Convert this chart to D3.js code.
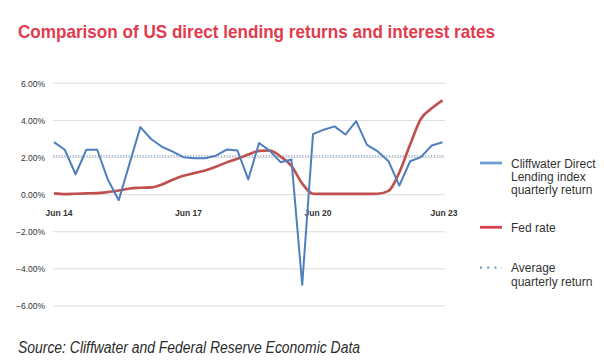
<!DOCTYPE html>
<html><head><meta charset="utf-8">
<script src="https://cdn.jsdelivr.net/npm/d3@7"></script>
<style>body{margin:0;background:#fff}svg{display:block}</style>
</head><body><svg id="c" width="604" height="364"></svg>
<script>
const quarters = ["Jun 14","Sep 14","Dec 14","Mar 15","Jun 15","Sep 15","Dec 15","Mar 16","Jun 16","Sep 16","Dec 16","Mar 17","Jun 17","Sep 17","Dec 17","Mar 18","Jun 18","Sep 18","Dec 18","Mar 19","Jun 19","Sep 19","Dec 19","Mar 20","Jun 20","Sep 20","Dec 20","Mar 21","Jun 21","Sep 21","Dec 21","Mar 22","Jun 22","Sep 22","Dec 22","Mar 23","Jun 23"];
const cliffwater = [2.83,2.42,1.10,2.42,2.42,0.80,-0.30,1.67,3.64,3.00,2.58,2.32,2.02,1.96,1.96,2.10,2.43,2.38,0.82,2.78,2.36,1.75,1.89,-4.86,3.26,3.50,3.68,3.24,3.96,2.68,2.33,1.80,0.49,1.80,2.02,2.65,2.82];
const fedRate = [0.07,0.03,0.05,0.07,0.08,0.14,0.22,0.33,0.37,0.39,0.55,0.80,1.02,1.16,1.30,1.50,1.74,1.93,2.16,2.36,2.38,2.05,1.55,0.60,0.05,0.04,0.04,0.04,0.04,0.04,0.05,0.20,1.20,2.70,4.09,4.65,5.08];
const averageReturn = 2.08;
const yTicks = [6,4,2,0,-2,-4,-6];
const xTickLabels = ["Jun 14","Jun 17","Jun 20","Jun 23"];
const legendItems = ["Cliffwater Direct|Lending index|quarterly return","Fed rate","Average|quarterly return"];

const svg = d3.select("#c");
const x = d3.scalePoint().domain(quarters).range([54, 442.5]);
const y = d3.scaleLinear().domain([-6, 6]).range([306, 83.3]);
const font = "'Liberation Sans', Arial, sans-serif";

// title
svg.append("text").attr("x", 18).attr("y", 37.5)
  .attr("font-family", font).attr("font-weight", "bold").attr("font-size", 18.5)
  .attr("fill", "#e23b4e").attr("textLength", 477).attr("lengthAdjust", "spacingAndGlyphs")
  .text("Comparison of US direct lending returns and interest rates");

// gridlines
svg.append("g").selectAll("line").data(yTicks).join("line")
  .attr("x1", 53).attr("x2", 445)
  .attr("y1", d => y(d)).attr("y2", d => y(d))
  .attr("stroke", "#dcdcdc").attr("stroke-width", 1);

// y labels
svg.append("g").selectAll("text").data(yTicks).join("text")
  .attr("x", 45).attr("y", d => y(d) + 3.2).attr("text-anchor", "end")
  .attr("font-family", font).attr("font-size", 8.5).attr("fill", "#333")
  .text(d => d3.format(".2f")(d) + "%");

// x labels
svg.append("g").selectAll("text").data(xTickLabels).join("text")
  .attr("x", d => x(d) + (d === "Jun 23" ? 1.5 : 5)).attr("y", 216).attr("text-anchor", "middle")
  .attr("font-family", font).attr("font-size", 8.5).attr("font-weight", "bold").attr("fill", "#333")
  .text(d => d);

// average dotted line
svg.append("line").attr("x1", 53).attr("x2", 445)
  .attr("y1", y(averageReturn)).attr("y2", y(averageReturn))
  .attr("stroke", "#8ea7c4").attr("stroke-width", 1.6).attr("stroke-dasharray", "1.2,1.6");

// fed rate
svg.append("path").datum(fedRate)
  .attr("d", d3.line().x((d, i) => x(quarters[i])).y(d => y(d)).curve(d3.curveMonotoneX))
  .attr("fill", "none").attr("stroke", "#c0504d").attr("stroke-width", 2.6);

// cliffwater
svg.append("path").datum(cliffwater)
  .attr("d", d3.line().x((d, i) => x(quarters[i])).y(d => y(d)))
  .attr("fill", "none").attr("stroke", "#4f7fbc").attr("stroke-width", 2).attr("stroke-linejoin", "round");

// legend
const lg = svg.append("g");
const legendY = [163, 227.3, 267.7];
const swatch = [
  {c: "#6a9fd2", dash: null, w: 2.8},
  {c: "#d9414f", dash: null, w: 2.8},
  {c: "#8199b4", dash: "2,5.2", w: 2.2}
];
legendItems.forEach((t, i) => {
  lg.append("line").attr("x1", 480).attr("x2", 502).attr("y1", legendY[i]).attr("y2", legendY[i])
    .attr("stroke", swatch[i].c).attr("stroke-width", swatch[i].w)
    .attr("stroke-dasharray", swatch[i].dash);
  t.split("|").forEach((ln, j) => {
    lg.append("text").attr("x", 511).attr("y", legendY[i] + 4.5 + j * 13.4)
      .attr("font-family", font).attr("font-size", 12).attr("fill", "#333").text(ln);
  });
});

// source
svg.append("text").attr("x", 18).attr("y", 352.5)
  .attr("font-family", font).attr("font-style", "italic").attr("font-size", 16)
  .attr("fill", "#2b2b2b").attr("textLength", 342).attr("lengthAdjust", "spacingAndGlyphs")
  .text("Source: Cliffwater and Federal Reserve Economic Data");
</script></body></html>
